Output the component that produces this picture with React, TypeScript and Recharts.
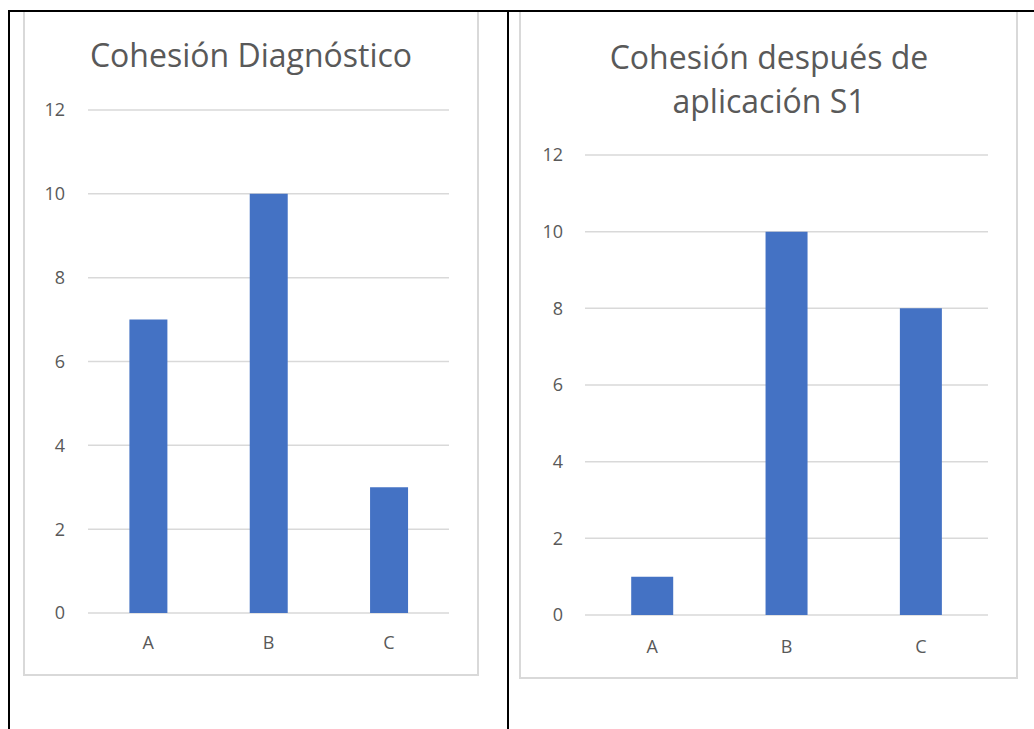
import React from 'react';
import { BarChart, Bar, XAxis, YAxis, CartesianGrid } from 'recharts';

const categories = ['A', 'B', 'C'];
const diagnosticoValues = [7, 10, 3];
const s1Values = [1, 10, 8];
const yTicks = [0, 2, 4, 6, 8, 10, 12];
const titleDiagnostico = ['Cohesión Diagnóstico'];
const titleS1 = ['Cohesión después de', 'aplicación S1'];

const diagnosticoData = categories.map((c, i) => ({ name: c, value: diagnosticoValues[i] }));
const s1Data = categories.map((c, i) => ({ name: c, value: s1Values[i] }));

const FONT = "'Open Sans', sans-serif";
const TEXT = '#595959';
const GRID = '#d9d9d9';
const BAR = '#4472C4';

type ChartProps = {
  data: { name: string; value: number }[];
  left: number;
  top: number;
  width: number;
  height: number;
  margin: { top: number; right: number; bottom: number; left: number };
  yTickMargin: number;
  xTickMargin: number;
};

function SmallBar({ data, left, top, width, height, margin, yTickMargin, xTickMargin }: ChartProps) {
  return (
    <div style={{ position: 'absolute', left, top, width, height }}>
      <BarChart width={width} height={height} data={data} margin={margin} barCategoryGap="34.4%">
        <CartesianGrid vertical={false} stroke={GRID} strokeWidth={1.5} />
        <XAxis
          dataKey="name"
          axisLine={false}
          tickLine={false}
          height={30}
          tickMargin={xTickMargin}
          tick={{ fill: TEXT, fontSize: 18, fontFamily: FONT }}
        />
        <YAxis
          domain={[0, 12]}
          ticks={yTicks}
          axisLine={false}
          tickLine={false}
          width={40}
          tickMargin={yTickMargin}
          tick={{ fill: TEXT, fontSize: 18, fontFamily: FONT }}
        />
        <Bar dataKey="value" fill={BAR} isAnimationActive={false} />
      </BarChart>
    </div>
  );
}

export default function App() {
  return (
    <div
      style={{
        position: 'absolute',
        left: 0,
        top: 0,
        width: 1034,
        height: 729,
        background: '#ffffff',
        overflow: 'hidden',
        fontFamily: FONT,
      }}
    >
      {/* chart boxes */}
      <div style={{ position: 'absolute', left: 23, top: 10, width: 456, height: 666, boxSizing: 'border-box', border: `2px solid ${GRID}` }} />
      <div style={{ position: 'absolute', left: 519, top: 10, width: 499, height: 669, boxSizing: 'border-box', border: `2px solid ${GRID}` }} />

      <SmallBar
        data={diagnosticoData}
        left={24}
        top={11}
        width={454}
        height={664}
        margin={{ top: 99, right: 29, bottom: 32, left: 24 }}
        yTickMargin={17}
        xTickMargin={17}
      />
      <SmallBar
        data={s1Data}
        left={520}
        top={11}
        width={498}
        height={668}
        margin={{ top: 144, right: 30, bottom: 34, left: 25 }}
        yTickMargin={16}
        xTickMargin={19}
      />

      <svg width={1034} height={729} style={{ position: 'absolute', left: 0, top: 0, pointerEvents: 'none' }}>
        {titleDiagnostico.map((t, i) => (
          <text key={t} x={251} y={67 + i * 44} textAnchor="middle" fontSize={32} fontFamily={FONT} fill={TEXT}>
            {t}
          </text>
        ))}
        {titleS1.map((t, i) => (
          <text key={t} x={769} y={69 + i * 44} textAnchor="middle" fontSize={32} fontFamily={FONT} fill={TEXT}>
            {t}
          </text>
        ))}
      </svg>

      {/* table borders */}
      <div style={{ position: 'absolute', left: 8, top: 10, width: 1026, height: 2, background: '#000' }} />
      <div style={{ position: 'absolute', left: 8, top: 10, width: 2, height: 719, background: '#000' }} />
      <div style={{ position: 'absolute', left: 507, top: 10, width: 2, height: 719, background: '#000' }} />
    </div>
  );
}
